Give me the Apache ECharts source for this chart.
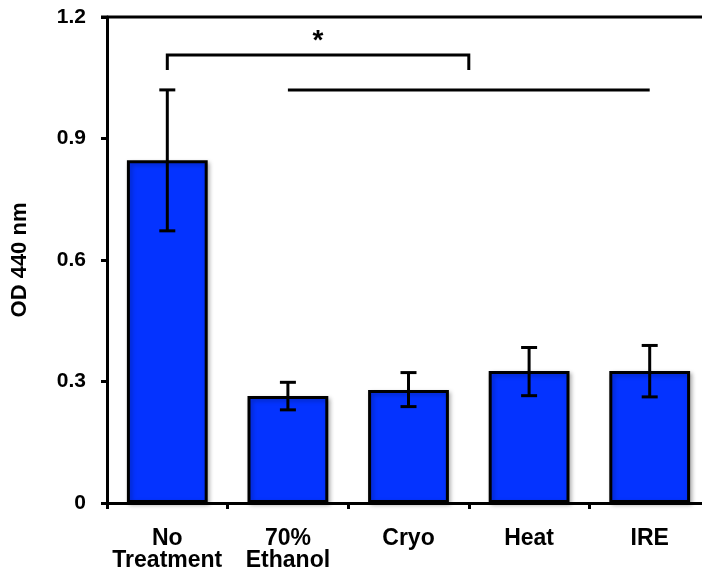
<!DOCTYPE html>
<html>
<head>
<meta charset="utf-8">
<script src="https://cdn.jsdelivr.net/npm/echarts@6/dist/echarts.min.js"></script>
<style>
html,body{margin:0;padding:0;background:#fff;}
#chart{width:702px;height:571px;}
</style>
</head>
<body>
<div id="chart"></div>
<script>
var categories = ['No\nTreatment', '70%\nEthanol', 'Cryo', 'Heat', 'IRE'];
var means = [0.846, 0.264, 0.279, 0.326, 0.326];
var errLow = [0.672, 0.230, 0.238, 0.265, 0.262];
var errHigh = [1.020, 0.298, 0.322, 0.384, 0.389];
var yTicks = [0, 0.3, 0.6, 0.9, 1.2];
var sigBracket = {from: 0, to: 2.5, y: 1.106, drop: 1.069, label: '*', labelY: 1.140};
var sigLine = {from: 1, to: 4, y: 1.02};

var FONT = '"Liberation Sans", Arial, Helvetica, sans-serif';
var chart = echarts.init(document.getElementById('chart'));

var errData = categories.map(function (c, i) { return [i, errLow[i], errHigh[i]]; });

var option = {
  animation: false,
  backgroundColor: '#fff',
  grid: {left: 107, width: 603, top: 17, height: 486, containLabel: false, outerBoundsMode: 'none'},
  xAxis: {
    type: 'category',
    data: categories,
    axisLine: {lineStyle: {color: '#000', width: 3}},
    axisTick: {show: true, interval: 0, length: 6, lineStyle: {color: '#000', width: 3}},
    axisLabel: {interval: 0, color: '#000', fontFamily: FONT, fontWeight: 'bold', fontSize: 23, lineHeight: 22, margin: 25}
  },
  yAxis: {
    type: 'value',
    min: 0, max: 1.2, interval: 0.3,
    name: 'OD 440 nm',
    nameLocation: 'middle',
    nameGap: 76,
    nameTextStyle: {color: '#000', fontFamily: FONT, fontWeight: 'bold', fontSize: 22},
    axisLine: {show: true, lineStyle: {color: '#000', width: 3}},
    axisTick: {show: true, length: 6, lineStyle: {color: '#000', width: 3}},
    splitLine: {show: false},
    axisLabel: {
      color: '#000', fontFamily: FONT, fontWeight: 'bold', fontSize: 21, margin: 21,
      formatter: function (v) {
        for (var k = 0; k < yTicks.length; k++) { if (Math.abs(yTicks[k] - v) < 1e-9) return String(yTicks[k]); }
        return '';
      }
    }
  },
  series: [
    {
      type: 'bar',
      data: means,
      barWidth: '67%',
      itemStyle: {color: '#0433ff', borderColor: '#000', borderWidth: 3,
        shadowColor: 'rgba(0,0,0,0.25)', shadowBlur: 4, shadowOffsetX: 2, shadowOffsetY: 2},
      z: 2
    },
    {
      type: 'custom',
      data: errData,
      z: 5,
      renderItem: function (params, api) {
        var x = api.value(0);
        var lo = api.coord([x, api.value(1)]);
        var hi = api.coord([x, api.value(2)]);
        var half = 8;
        var st = {stroke: '#000', lineWidth: 3};
        return {
          type: 'group',
          children: [
            {type: 'line', shape: {x1: hi[0], y1: hi[1], x2: lo[0], y2: lo[1]}, style: st},
            {type: 'line', shape: {x1: hi[0] - half, y1: hi[1], x2: hi[0] + half, y2: hi[1]}, style: st},
            {type: 'line', shape: {x1: lo[0] - half, y1: lo[1], x2: lo[0] + half, y2: lo[1]}, style: st}
          ]
        };
      }
    }
  ]
};
chart.setOption(option);

function px(catIdx, val) {
  var i0 = Math.floor(catIdx), f = catIdx - i0;
  var a = chart.convertToPixel({gridIndex: 0}, [i0, val]);
  if (f === 0) return a;
  var b = chart.convertToPixel({gridIndex: 0}, [i0 + 1, val]);
  return [a[0] + (b[0] - a[0]) * f, a[1]];
}

var st = {stroke: '#000', lineWidth: 3};
var bL = px(sigBracket.from, sigBracket.y);
var bR = px(sigBracket.to, sigBracket.y);
var dropY = px(0, sigBracket.drop)[1];
var starP = px((sigBracket.from + sigBracket.to) / 2, sigBracket.labelY);
var lL = px(sigLine.from, sigLine.y);
var lR = px(sigLine.to, sigLine.y);
var topY = px(0, 1.2)[1];
var gridRect = chart.getModel().getComponent('grid').coordinateSystem.getRect();

chart.setOption({
  graphic: [
    {type: 'line', shape: {x1: gridRect.x - 6, y1: topY, x2: 702, y2: topY}, style: st, z: 10},
    {type: 'polyline', shape: {points: [[bL[0], dropY], [bL[0], bL[1]], [bR[0], bR[1]], [bR[0], dropY]]}, style: {stroke: '#000', lineWidth: 3, fill: null}, z: 10},
    {type: 'line', shape: {x1: lL[0], y1: lL[1], x2: lR[0], y2: lR[1]}, style: st, z: 10},
    {type: 'text', x: starP[0], y: starP[1], style: {text: sigBracket.label, fill: '#000', font: 'bold 28px ' + FONT, textAlign: 'center', textVerticalAlign: 'middle'}, z: 10}
  ]
});
</script>
</body>
</html>
